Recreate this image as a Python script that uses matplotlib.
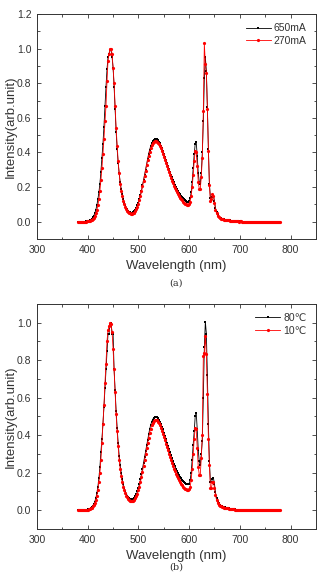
import matplotlib
matplotlib.use('Agg')
import matplotlib.pyplot as plt
import numpy as np
from matplotlib.ticker import MultipleLocator

plt.rcParams['font.family'] = ['Liberation Sans', 'DejaVu Sans']

# wavelength grid, 2 nm step from 380 to 780 nm
wavelength = np.arange(380, 782, 2)

tail_a = [0.002, 0.002, 0.0015, 0.0015, 0.001, 0.001, 0.001, 0.001, 0.001, 0.001,
          0, 0, 0, 0, 0, 0, 0, 0, 0, 0,
          0, 0, 0, 0, 0, 0, 0, 0, 0, 0,
          0, 0, 0, 0, 0, 0, 0, 0, 0, 0, 0]

# panel (a): drive current
labels_a = ['650mA', '270mA']
i_650 = [0.000, 0.000, 0.000, 0.000, 0.000, 0.001, 0.001, 0.001, 0.002, 0.003,
         # 400-498
         0.004, 0.006, 0.009, 0.013, 0.018, 0.025, 0.035, 0.050, 0.070, 0.095,
         0.130, 0.170, 0.220, 0.290, 0.370, 0.450, 0.550, 0.670, 0.780, 0.880,
         0.950, 0.970, 0.990, 0.990, 0.950, 0.890, 0.780, 0.650, 0.520, 0.420,
         0.340, 0.280, 0.230, 0.190, 0.160, 0.130, 0.110, 0.095, 0.082, 0.072,
         0.064, 0.058, 0.054, 0.052, 0.052, 0.055, 0.060, 0.068, 0.080, 0.095,
         # 500-598
         0.110, 0.130, 0.155, 0.180, 0.210, 0.240, 0.270, 0.300, 0.330, 0.360,
         0.390, 0.415, 0.435, 0.452, 0.465, 0.473, 0.477, 0.478, 0.476, 0.470,
         0.462, 0.452, 0.440, 0.425, 0.410, 0.393, 0.376, 0.358, 0.340, 0.322,
         0.305, 0.288, 0.272, 0.256, 0.241, 0.227, 0.214, 0.201, 0.190, 0.179,
         0.169, 0.160, 0.151, 0.143, 0.136, 0.129, 0.123, 0.118, 0.115, 0.115,
         # 600-698
         0.120, 0.135, 0.170, 0.230, 0.310, 0.390, 0.450, 0.460, 0.380, 0.280,
         0.230, 0.220, 0.280, 0.400, 0.580, 0.830, 0.950, 0.870, 0.660, 0.420,
         0.220, 0.140, 0.130, 0.145, 0.150, 0.120, 0.080, 0.055, 0.040, 0.030,
         0.024, 0.020, 0.017, 0.015, 0.014, 0.013, 0.012, 0.011, 0.010, 0.009,
         0.008, 0.007, 0.006, 0.005, 0.004, 0.0035, 0.003, 0.0025, 0.002, 0.002] + tail_a
i_270 = [0.000, 0.000, 0.000, 0.000, 0.000, 0.000, 0.001, 0.001, 0.001, 0.002,
         0.003, 0.004, 0.006, 0.009, 0.012, 0.017, 0.024, 0.034, 0.048, 0.068,
         0.095, 0.130, 0.180, 0.240, 0.310, 0.390, 0.480, 0.580, 0.670, 0.810,
         0.930, 0.970, 1.000, 1.000, 0.970, 0.890, 0.800, 0.670, 0.540, 0.440,
         0.350, 0.280, 0.220, 0.180, 0.150, 0.120, 0.100, 0.085, 0.073, 0.064,
         0.057, 0.052, 0.048, 0.046, 0.046, 0.048, 0.053, 0.060, 0.072, 0.087,
         0.105, 0.125, 0.150, 0.175, 0.205, 0.235, 0.265, 0.295, 0.325, 0.355,
         0.380, 0.405, 0.425, 0.442, 0.454, 0.462, 0.466, 0.466, 0.463, 0.457,
         0.448, 0.437, 0.424, 0.409, 0.393, 0.376, 0.358, 0.340, 0.322, 0.304,
         0.287, 0.270, 0.254, 0.238, 0.223, 0.209, 0.196, 0.183, 0.171, 0.160,
         0.150, 0.140, 0.131, 0.123, 0.116, 0.110, 0.105, 0.101, 0.099, 0.099,
         0.103, 0.117, 0.150, 0.200, 0.270, 0.350, 0.410, 0.400, 0.320, 0.230,
         0.190, 0.190, 0.260, 0.370, 0.640, 1.030, 0.910, 0.860, 0.650, 0.410,
         0.210, 0.120, 0.130, 0.160, 0.150, 0.110, 0.070, 0.050, 0.035, 0.027,
         0.022, 0.019, 0.016, 0.014, 0.013, 0.012, 0.011, 0.010, 0.009, 0.008,
         0.007, 0.006, 0.005, 0.004, 0.0035, 0.003, 0.0025, 0.002, 0.002, 0.0015] + tail_a

# panel (b): temperature
labels_b = ['80\u2103', '10\u2103']
i_80 = [0.000, 0.000, 0.000, 0.000, 0.000, 0.001, 0.001, 0.001, 0.002, 0.003,
        0.004, 0.006, 0.009, 0.012, 0.017, 0.024, 0.033, 0.046, 0.065, 0.090,
        0.125, 0.170, 0.230, 0.310, 0.380, 0.460, 0.550, 0.650, 0.750, 0.850,
        0.940, 0.940, 0.990, 1.000, 0.940, 0.940, 0.750, 0.640, 0.530, 0.440,
        0.360, 0.290, 0.240, 0.200, 0.165, 0.140, 0.118, 0.100, 0.088, 0.078,
        0.070, 0.065, 0.061, 0.059, 0.059, 0.061, 0.066, 0.074, 0.086, 0.100,
        0.118, 0.140, 0.165, 0.192, 0.222, 0.252, 0.283, 0.314, 0.345, 0.375,
        0.404, 0.430, 0.452, 0.470, 0.483, 0.492, 0.497, 0.498, 0.496, 0.491,
        0.483, 0.472, 0.460, 0.445, 0.430, 0.413, 0.396, 0.378, 0.360, 0.342,
        0.325, 0.308, 0.292, 0.276, 0.261, 0.247, 0.234, 0.221, 0.209, 0.198,
        0.188, 0.179, 0.171, 0.163, 0.156, 0.150, 0.145, 0.141, 0.138, 0.137,
        0.142, 0.160, 0.200, 0.270, 0.350, 0.420, 0.500, 0.520, 0.430, 0.320,
        0.260, 0.240, 0.300, 0.370, 0.600, 0.870, 1.005, 0.940, 0.720, 0.460,
        0.260, 0.150, 0.150, 0.165, 0.170, 0.140, 0.095, 0.065, 0.047, 0.036,
        0.028, 0.023, 0.020, 0.018, 0.016, 0.015, 0.013, 0.012, 0.011, 0.010,
        0.009, 0.008, 0.007, 0.006, 0.005, 0.004, 0.0035, 0.003, 0.0025, 0.002] + tail_a
i_10 = [0.000, 0.000, 0.000, 0.000, 0.000, 0.000, 0.001, 0.001, 0.001, 0.002,
        0.003, 0.005, 0.007, 0.010, 0.014, 0.020, 0.028, 0.040, 0.056, 0.078,
        0.110, 0.150, 0.200, 0.270, 0.360, 0.460, 0.560, 0.680, 0.780, 0.900,
        0.960, 0.980, 1.000, 0.990, 0.950, 0.860, 0.750, 0.630, 0.510, 0.420,
        0.340, 0.270, 0.220, 0.180, 0.150, 0.125, 0.105, 0.090, 0.078, 0.068,
        0.060, 0.055, 0.051, 0.049, 0.049, 0.051, 0.056, 0.063, 0.074, 0.088,
        0.105, 0.125, 0.150, 0.176, 0.206, 0.236, 0.267, 0.298, 0.329, 0.358,
        0.386, 0.412, 0.434, 0.452, 0.466, 0.475, 0.480, 0.481, 0.478, 0.472,
        0.463, 0.452, 0.439, 0.424, 0.408, 0.391, 0.373, 0.355, 0.337, 0.319,
        0.301, 0.284, 0.267, 0.251, 0.236, 0.221, 0.207, 0.194, 0.182, 0.170,
        0.159, 0.149, 0.140, 0.132, 0.125, 0.119, 0.114, 0.111, 0.109, 0.109,
        0.113, 0.125, 0.160, 0.220, 0.300, 0.380, 0.440, 0.430, 0.330, 0.230,
        0.190, 0.190, 0.280, 0.400, 0.820, 0.840, 0.930, 0.830, 0.620, 0.380,
        0.240, 0.120, 0.120, 0.150, 0.150, 0.120, 0.080, 0.055, 0.040, 0.030,
        0.024, 0.020, 0.017, 0.015, 0.014, 0.013, 0.012, 0.011, 0.010, 0.009,
        0.008, 0.007, 0.006, 0.005, 0.004, 0.0035, 0.003, 0.0025, 0.002, 0.0015] + tail_a


def draw_panel(ax, black_vals, red_vals, labels, ytop, caption, cap_y):
	ax.plot(wavelength, black_vals, color='black', linewidth=0.6, marker='s',
		markersize=2.1, markeredgewidth=0, label=labels[0])
	ax.plot(wavelength, red_vals, color='red', linewidth=0.6, marker='o',
		markersize=2.3, markeredgewidth=0, label=labels[1])
	ax.set_xlim(300, 850)
	ax.set_ylim(-0.1, ytop)
	ax.xaxis.set_major_locator(MultipleLocator(100))
	ax.xaxis.set_minor_locator(MultipleLocator(50))
	ax.yaxis.set_major_locator(MultipleLocator(0.2))
	ax.yaxis.set_minor_locator(MultipleLocator(0.1))
	ax.yaxis.set_major_formatter(matplotlib.ticker.FormatStrFormatter('%.1f'))
	ax.tick_params(which='both', direction='in', top=True, right=True,
		labelsize=7.5, width=0.6, colors='#333333', labelcolor='#333333', pad=4)
	ax.tick_params(which='major', length=3)
	ax.tick_params(which='minor', length=1.8)
	for sp in ax.spines.values():
		sp.set_linewidth(0.7)
		sp.set_color('#333333')
	ax.set_xlabel('Wavelength (nm)', fontsize=9.5, color='#333333')
	ax.set_ylabel('Intensity(arb.unit)', fontsize=9.5, color='#333333')
	ax.xaxis.set_label_coords(0.5, -0.12)
	ax.yaxis.set_label_coords(-0.093, 0.5)
	ax.xaxis.label.set_va('center')
	ax.yaxis.label.set_va('center')
	ax.legend(loc='upper right', frameon=False, fontsize=7.5, handlelength=2.4,
		handletextpad=0.3, borderaxespad=0.5, labelspacing=0.25,
		labelcolor='#333333')
	ax.text(0.5, cap_y, caption, transform=ax.transAxes, ha='center', va='center',
		fontsize=7, family='DejaVu Serif', color='#333333')


fig = plt.figure(figsize=(3.22, 5.79), dpi=100)
ax1 = fig.add_axes([0.115, 0.587, 0.866, 0.389])
draw_panel(ax1, i_650, i_270, labels_a, 1.2, '(a)', -0.195)
ax2 = fig.add_axes([0.115, 0.0864, 0.866, 0.389])
draw_panel(ax2, i_80, i_10, labels_b, 1.1, '(b)', -0.168)

fig.savefig('out.png', dpi=100)
